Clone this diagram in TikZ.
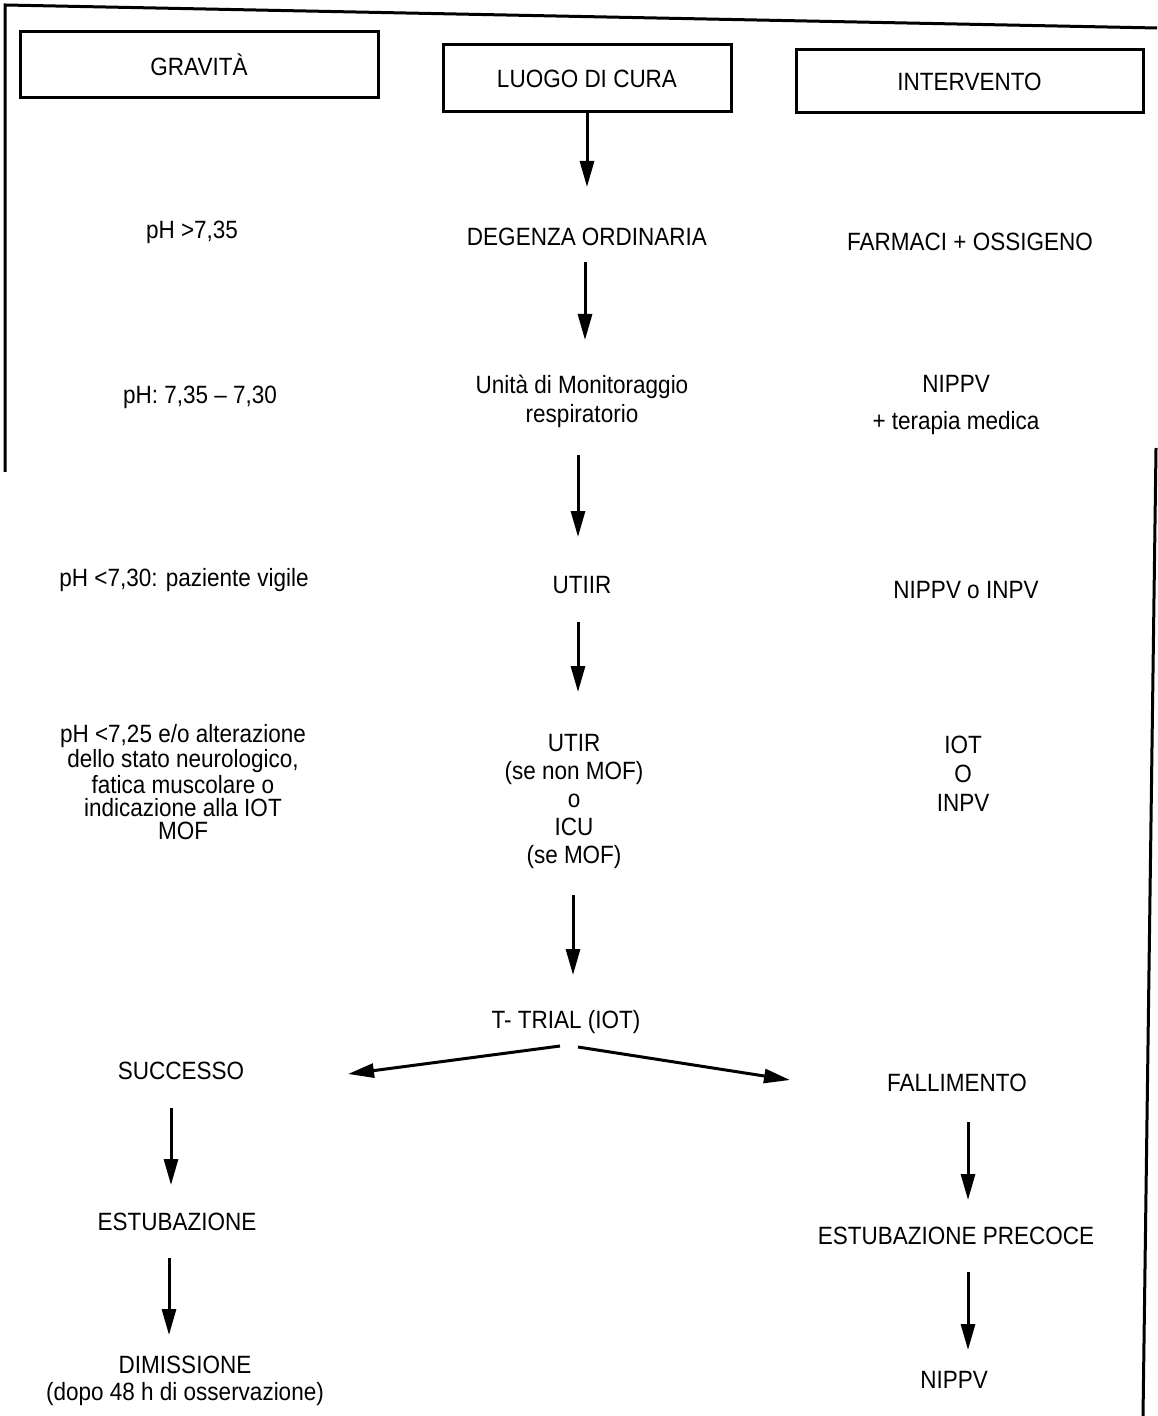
\documentclass[tikz,border=0pt]{standalone}
\usepackage{fontspec}
\setmainfont{Liberation Sans}[FakeStretch=0.9]
\usetikzlibrary{arrows.meta}
\newcommand{\myfs}[1]{\fontsize{12.5}{#1}\selectfont}
\begin{document}
\begin{tikzpicture}[x=0.5pt,y=-0.5pt,
  lbl/.style={font=\myfs{15}, align=center, inner sep=0pt},
  hdr/.style={draw, line width=1.5pt, font=\myfs{15}, inner sep=0pt},
  arr/.style={line width=1.5pt, -{Triangle[length=13pt,width=7pt]}},
  frame/.style={line width=1.5pt}]
\useasboundingbox (0,0) rectangle (1157,1416);
% outer frame (partial)
\draw[frame] (5,472) -- (5,5) -- (1157,28);
\draw[frame] (1156,448) -- (1143,1416);
% header boxes
\node[hdr, minimum width=179pt, minimum height=33pt] (grav) at (199,65) {GRAVITÀ};
\node[hdr, minimum width=144pt, minimum height=33.5pt] (luogo) at (587,78.5) {LUOGO DI CURA};
\node[hdr, minimum width=173.5pt, minimum height=31.5pt] (interv) at (969.5,81.5) {INTERVENTO};
% left column
\node[lbl] (ph1) at (192,232) {pH >7,35};
\node[lbl] (ph2) at (200,397) {pH: 7,35 – 7,30};
\node[lbl] (ph3) at (184,580) {pH <7,30: paziente vigile};
\node[lbl, font=\myfs{11.5}] (ph4) at (183,782) {pH <7,25 e/o alterazione\\dello stato neurologico,\\fatica muscolare o\\indicazione alla IOT\\MOF};
\node[lbl] (succ) at (181,1071) {SUCCESSO};
\node[lbl] (estub) at (177,1222) {ESTUBAZIONE};
\node[lbl, font=\myfs{13.5}] (dimiss) at (185,1380.5) {DIMISSIONE\\(dopo 48 h di osservazione)};
% center column
\node[lbl] (degenza) at (587,237) {DEGENZA ORDINARIA};
\node[lbl, font=\myfs{14.5}] (unita) at (582,401.5) {Unità di Monitoraggio\\respiratorio};
\node[lbl] (utiir) at (582,585) {UTIIR};
\node[lbl, font=\myfs{14}] (utir) at (574,801) {UTIR\\(se non MOF)\\o\\ICU\\(se MOF)};
\node[lbl] (ttrial) at (566,1022) {T- TRIAL (IOT)};
% right column
\node[lbl] (farm) at (970,242) {FARMACI + OSSIGENO};
\node[lbl, font=\myfs{18.5}] (nippv1) at (956,404.5) {NIPPV\\+ terapia medica};
\node[lbl] (nippvo) at (966,590) {NIPPV o INPV};
\node[lbl, font=\myfs{14.5}] (iot) at (963,774) {IOT\\O\\INPV};
\node[lbl] (fall) at (957,1083) {FALLIMENTO};
\node[lbl] (estprec) at (956,1236) {ESTUBAZIONE PRECOCE};
\node[lbl] (nippv2) at (954,1380) {NIPPV};
% connectors
\draw[arr] (luogo.south) -- ([shift={(0,-50)}]degenza.center);
\draw[arr] ([shift={(-2,25)}]degenza.center) -- ([shift={(3,-61.5)}]unita.center);
\draw[arr] ([shift={(-4,53.5)}]unita.center) -- ([shift={(-4,-48)}]utiir.center);
\draw[arr] ([shift={(-4,37)}]utiir.center) -- ([shift={(4,-109)}]utir.center);
\draw[arr] ([shift={(-1,94)}]utir.center) -- ([shift={(7,-47)}]ttrial.center);
\draw[arr] ([shift={(-6,24)}]ttrial.center) -- ([shift={(167,3)}]succ.center);
\draw[arr] ([shift={(12,25)}]ttrial.center) -- ([shift={(-167,-3)}]fall.center);
\draw[arr] ([shift={(-10,37)}]succ.center) -- ([shift={(-6,-37)}]estub.center);
\draw[arr] ([shift={(-8,36)}]estub.center) -- ([shift={(-16,-45.5)}]dimiss.center);
\draw[arr] ([shift={(11,39)}]fall.center) -- ([shift={(12,-36)}]estprec.center);
\draw[arr] ([shift={(12,36)}]estprec.center) -- ([shift={(14,-30)}]nippv2.center);
\end{tikzpicture}
\end{document}
